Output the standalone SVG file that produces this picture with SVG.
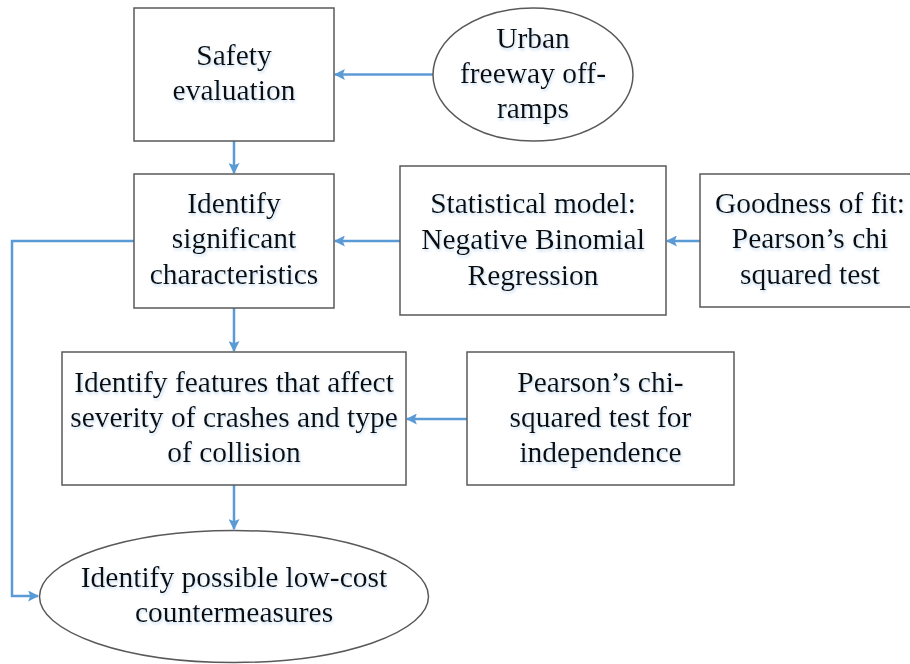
<svg xmlns="http://www.w3.org/2000/svg" width="910" height="664" viewBox="0 0 910 664">
<style>
.node rect, .node ellipse { fill: #ffffff; stroke: #595959; stroke-width: 1.5; }
.node text { font-family: "Liberation Serif", "Times New Roman", serif; font-size: 29.5px; fill: #0a0a0a; text-anchor: middle; filter: url(#glow); }
.conn { fill: none; stroke: #5B9BD5; stroke-width: 2.5; }
</style>
<defs>
<filter id="glow" x="-10%" y="-30%" width="120%" height="170%">
<feDropShadow dx="1" dy="2" stdDeviation="1.5" flood-color="#9DC3E6" flood-opacity="0.6"/>
</filter>
<marker id="arrow" viewBox="0 0 10 10" refX="9" refY="5" markerWidth="11" markerHeight="11" markerUnits="userSpaceOnUse" orient="auto">
<path d="M0,0 L10,5 L0,10 L2,5 Z" fill="#5B9BD5"/>
</marker>
</defs>
<rect width="910" height="664" fill="#ffffff"/>
<g id="connectors">
<line class="conn" x1="433" y1="74.5" x2="335" y2="74.5" marker-end="url(#arrow)"/>
<line class="conn" x1="234" y1="141" x2="234" y2="173" marker-end="url(#arrow)"/>
<line class="conn" x1="400" y1="241" x2="335" y2="241" marker-end="url(#arrow)"/>
<line class="conn" x1="700" y1="241" x2="667" y2="241" marker-end="url(#arrow)"/>
<line class="conn" x1="234" y1="308" x2="234" y2="351" marker-end="url(#arrow)"/>
<line class="conn" x1="467" y1="419" x2="407" y2="419" marker-end="url(#arrow)"/>
<line class="conn" x1="234" y1="485" x2="234" y2="529" marker-end="url(#arrow)"/>
<polyline class="conn" points="134,241 12,241 12,596 38,596" marker-end="url(#arrow)"/>
</g>
<g id="safety" class="node">
<rect x="134" y="8" width="200" height="133"/>
<text x="234" y="65">Safety</text>
<text x="234" y="100">evaluation</text>
</g>
<g id="urban" class="node">
<ellipse cx="533" cy="74.5" rx="100" ry="66.5"/>
<text x="533" y="48">Urban</text>
<text x="533" y="83">freeway off-</text>
<text x="533" y="118">ramps</text>
</g>
<g id="identify-sig" class="node">
<rect x="134" y="174" width="200" height="134"/>
<text x="234" y="213">Identify</text>
<text x="234" y="248">significant</text>
<text x="234" y="284">characteristics</text>
</g>
<g id="statmodel" class="node">
<rect x="400" y="166" width="266" height="149"/>
<text x="533" y="213">Statistical model:</text>
<text x="533" y="249">Negative Binomial</text>
<text x="533" y="285">Regression</text>
</g>
<g id="goodness" class="node">
<rect x="700" y="174" width="220" height="133"/>
<text x="810" y="213">Goodness of fit:</text>
<text x="810" y="248">Pearson’s chi</text>
<text x="810" y="284">squared test</text>
</g>
<g id="features" class="node">
<rect x="62" y="352" width="344" height="133"/>
<text x="234" y="392">Identify features that affect</text>
<text x="234" y="427">severity of crashes and type</text>
<text x="234" y="462">of collision</text>
</g>
<g id="pearson" class="node">
<rect x="467" y="352" width="267" height="133"/>
<text x="600.5" y="392">Pearson’s chi-</text>
<text x="600.5" y="427">squared test for</text>
<text x="600.5" y="462">independence</text>
</g>
<g id="countermeasures" class="node">
<ellipse cx="234" cy="596.5" rx="194.5" ry="66"/>
<text x="234" y="587">Identify possible low-cost</text>
<text x="234" y="622">countermeasures</text>
</g>
</svg>
